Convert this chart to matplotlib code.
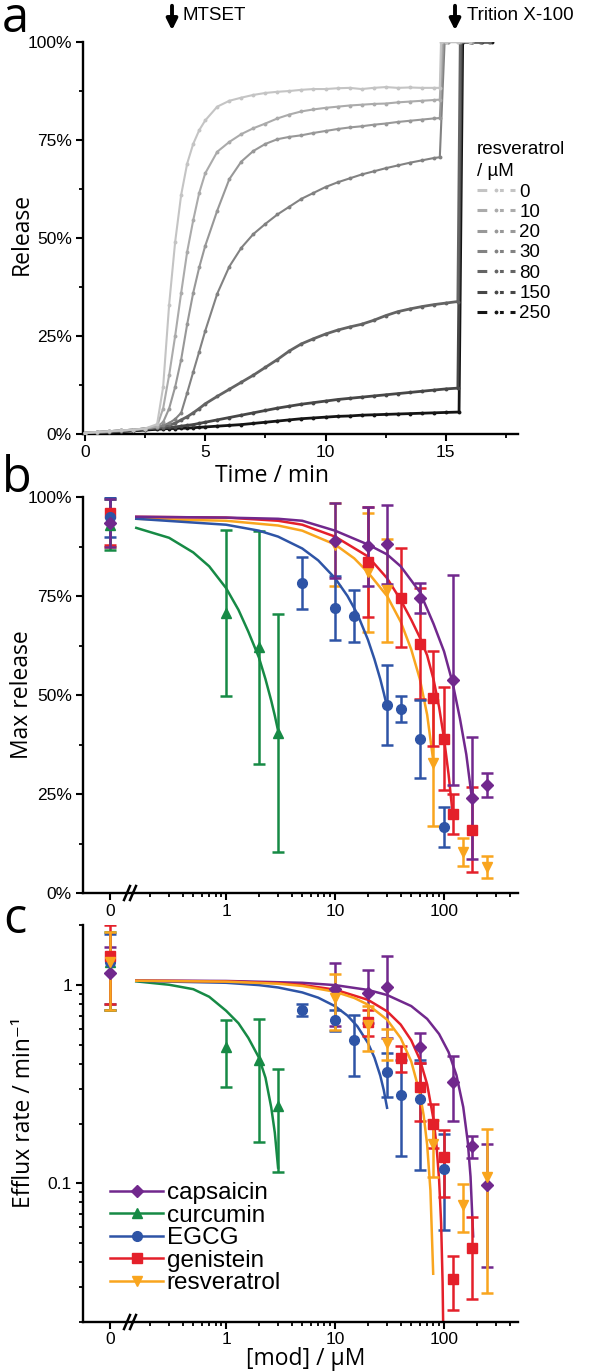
import matplotlib
matplotlib.use('Agg')
import matplotlib.pyplot as plt
from matplotlib.lines import Line2D
from matplotlib.ticker import FixedLocator, NullFormatter, FixedFormatter

W, H = 590, 1372
plt.rcParams['font.family'] = ['Liberation Sans', 'DejaVu Sans']
LABEL_FONT = ['Open Sans', 'DejaVu Sans']

# ---------------- panel a: release traces (resveratrol series) ----------------
time_grid = [0, 0.5, 1, 1.5, 2, 2.5, 3, 3.25, 3.5, 3.75, 4, 4.25, 4.5, 4.75, 5,
             5.5, 6, 6.5, 7, 7.5, 8, 8.5, 9, 9.5, 10, 10.5, 11, 11.5, 12, 12.5,
             13, 13.5, 14, 14.5]
trace_conc = ['0', '10', '20', '30', '80', '150', '250']
trace_grays = ['#c4c4c4', '#ababab', '#989898', '#828282', '#646464', '#474747', '#151515']
release_0 = [0.3, 0.5, 0.7, 0.9, 1.1, 1.4, 2.5, 12, 33, 49, 61, 69, 74, 77.5, 80,
             83.5, 85, 85.8, 86.5, 87, 87.3, 87.5, 87.8, 88, 88, 88.2, 88.3, 88,
             88.3, 88.5, 88.3, 88.4, 88.3, 88.3]
release_10 = [0.3, 0.5, 0.7, 0.9, 1.1, 1.4, 2.0, 6.5, 15, 25, 36, 46.5, 54.5, 61.5,
              66.5, 72, 74.5, 76.5, 78, 79.2, 80.5, 81.5, 82.3, 82.8, 83.2, 83.5,
              83.8, 84, 84.2, 84.3, 84.6, 84.8, 85, 85.2]
release_20 = [0.3, 0.5, 0.7, 0.9, 1.1, 1.4, 1.9, 3, 6.5, 12, 19, 28, 36, 42.5, 48,
              57, 65, 69.5, 72.2, 74, 75.2, 75.8, 76.2, 76.8, 77.3, 77.8, 78.2,
              78.5, 78.9, 79.2, 79.6, 79.9, 80.2, 80.5]
release_30 = [0.3, 0.5, 0.7, 0.9, 1.1, 1.4, 1.8, 2.2, 2.8, 3.8, 5.4, 10.5, 15.8, 21,
              26.3, 35.8, 42.7, 47.5, 51, 53.6, 56, 58, 60, 61.5, 63, 64.2, 65.2,
              66.2, 67, 67.8, 68.5, 69.2, 69.8, 70.4]
release_80 = [0.2, 0.4, 0.6, 0.8, 1.0, 1.3, 1.7, 1.9, 2.2, 2.8, 3.6, 4.4, 5.4, 6.5,
              7.7, 9.6, 11.4, 13.2, 15, 17, 19, 21.2, 23, 24.3, 25.5, 26.5, 27.3,
              28, 29, 30.2, 31.2, 31.9, 32.5, 33]
release_150 = [0.1, 0.3, 0.5, 0.7, 0.9, 1.2, 1.5, 1.6, 1.7, 1.8, 2.0, 2.2, 2.4, 2.7,
               3.0, 3.6, 4.2, 4.8, 5.4, 6.0, 6.6, 7.1, 7.6, 8.0, 8.4, 8.8, 9.1,
               9.4, 9.7, 10.0, 10.3, 10.6, 10.9, 11.2]
release_250 = [0.0, 0.2, 0.4, 0.6, 0.8, 1.0, 1.2, 1.3, 1.4, 1.4, 1.5, 1.5, 1.6, 1.7,
               1.8, 2.0, 2.2, 2.4, 2.7, 3.0, 3.3, 3.6, 3.9, 4.1, 4.3, 4.5, 4.6,
               4.8, 4.9, 5.0, 5.1, 5.2, 5.3, 5.4]
# after Triton X-100 addition
tail_t = [[14.75, 14.8, 15.0, 15.5, 16.0],
          [14.75, 14.85, 15.0, 15.5, 16.0],
          [14.75, 14.9, 15.1, 15.6, 16.1],
          [14.75, 14.95, 15.1, 15.6, 16.1],
          [15.0, 15.5, 15.6, 16.0, 16.4, 16.8],
          [15.0, 15.5, 15.65, 16.05, 16.45, 16.85],
          [15.0, 15.55, 15.7, 16.1, 16.5, 16.9]]
tail_y = [[88.3, 100, 100, 100, 100],
          [85.3, 100, 100, 100, 100],
          [80.6, 100, 100, 100, 100],
          [70.6, 100, 100, 100, 100],
          [33.4, 33.8, 100, 100, 100, 100],
          [11.5, 11.7, 100, 100, 100, 100],
          [5.5, 5.6, 100, 100, 100, 100]]
traces = [release_0, release_10, release_20, release_30, release_80, release_150, release_250]

# ---------------- panels b, c: dose response ----------------
compounds = ['capsaicin', 'curcumin', 'EGCG', 'genistein', 'resveratrol']
colors = ['#71288d', '#168a45', '#2e54a6', '#e4202a', '#f9a51e']
markers = ['D', '^', 'o', 's', 'v']
msizes = [6.5, 7, 7, 6.5, 7]

conc = [[10, 20, 30, 60, 120, 180, 250],
        [1, 2, 3],
        [5, 10, 15, 30, 40, 60, 100],
        [20, 40, 60, 80, 100, 120, 180],
        [10, 20, 30, 80, 150, 250]]

# max release (%), control (no modifier) first
ctrl_release = [93.5, 93, 95, 96, 94]
ctrl_release_err = [6, 6.5, 5, 8, 6.5]
max_release = [[89, 87.6, 88.1, 74.5, 53.8, 24, 27.3],
               [70.7, 62, 40.4],
               [78.3, 72, 70, 47.5, 46.5, 38.9, 16.7],
               [83.6, 74.5, 63, 49.2, 39, 20, 16],
               [88, 81, 76.5, 32.8, 10.4, 6.6]]
max_release_err = [[9.5, 10, 10, 3.8, 26.5, 15.4, 3],
                   [21, 29.5, 30],
                   [6.5, 8, 6.5, 10, 3.2, 9.8, 5],
                   [14, 12.5, 14, 12, 13, 5, 10.7],
                   [10.6, 15, 13, 16, 3.5, 2.8]]
fit_release_x = [[0.15, 1, 3, 5, 10, 20, 30, 40, 60, 80, 100, 120, 140, 160, 180],
                 [0.15, 0.3, 0.5, 0.7, 1, 1.3, 1.6, 2, 2.3, 2.6, 2.8, 3],
                 [0.15, 1, 2, 3, 5, 7, 10, 13, 16, 20, 23, 26, 28, 30],
                 [0.15, 1, 3, 5, 10, 20, 30, 40, 50, 60, 70, 80, 90, 100, 110, 120],
                 [0.15, 1, 3, 5, 10, 15, 20, 30, 40, 50, 60, 70, 80]]
fit_release_y = [[95, 94.8, 94.5, 94, 91.5, 88, 85.5, 82.5, 76, 68, 61, 53, 44, 35, 24],
                 [92.2, 89.7, 86, 82.5, 77, 71.5, 66, 59.5, 54, 48.5, 44.8, 41],
                 [94.5, 93, 91.5, 90, 87, 84, 79.5, 75, 70.5, 64, 59, 54, 50.5, 47],
                 [95, 94.8, 94, 93, 90, 85, 79.5, 74, 69, 64.5, 60, 54, 47, 39, 30, 20],
                 [94.5, 94, 92.8, 91.5, 88, 84.5, 81, 75, 68.5, 61.5, 54, 45, 33]]

# efflux rate (1/min)
ctrl_rate = [1.15, 1.3, 1.3, 1.4, 1.3]
ctrl_rate_err = [0.4, 0.55, 0.5, 0.6, 0.55]
efflux_rate = [[0.95, 0.91, 0.97, 0.486, 0.323, 0.154, 0.098],
               [0.485, 0.416, 0.246],
               [0.747, 0.665, 0.526, 0.363, 0.277, 0.267, 0.118],
               [0.65, 0.428, 0.305, 0.20, 0.135, 0.033, 0.047],
               [0.86, 0.626, 0.51, 0.158, 0.078, 0.108]]
efflux_rate_err = [[0.33, 0.27, 0.43, 0.084, 0.117, 0.02, 0.06],
                   [0.18, 0.255, 0.132],
                   [0.05, 0.08, 0.18, 0.09, 0.14, 0.15, 0.06],
                   [0.1, 0.065, 0.1, 0.05, 0.05, 0.01, 0.021],
                   [0.27, 0.16, 0.09, 0.05, 0.021, 0.08]]
fit_rate_x = [[0.15, 1, 5, 10, 20, 30, 50, 70, 90, 110, 130, 150, 165, 175, 185],
              [0.15, 0.3, 0.5, 0.7, 1, 1.3, 1.6, 2, 2.3, 2.6, 2.8, 3],
              [0.15, 1, 2, 3, 5, 7, 10, 13, 16, 20, 23, 26, 28, 30],
              [0.15, 1, 3, 5, 10, 20, 30, 40, 50, 60, 70, 80, 85, 90, 94, 97, 98.2],
              [0.15, 1, 3, 5, 10, 15, 20, 30, 40, 50, 60, 65, 70, 75, 79.5]]
fit_rate_y = [[1.05, 1.045, 1.023, 0.996, 0.942, 0.888, 0.781, 0.673, 0.565, 0.458,
               0.35, 0.242, 0.162, 0.108, 0.054],
              [1.04, 1.0, 0.95, 0.87, 0.74, 0.64, 0.54, 0.43, 0.34, 0.24, 0.18, 0.12],
              [1.046, 1.023, 0.996, 0.969, 0.915, 0.861, 0.78, 0.699, 0.618, 0.51,
               0.429, 0.348, 0.294, 0.24],
              [1.048, 1.04, 1.02, 0.998, 0.945, 0.84, 0.735, 0.63, 0.525, 0.42, 0.315,
               0.21, 0.158, 0.105, 0.063, 0.0315, 0.019],
              [1.048, 1.037, 1.012, 0.986, 0.922, 0.858, 0.794, 0.667, 0.539, 0.411,
               0.284, 0.22, 0.156, 0.092, 0.035]]


def rect(left, right, top, bottom):
    return [left / W, 1 - bottom / H, (right - left) / W, (bottom - top) / H]


def style_spines(ax, sides):
    for s in ['left', 'right', 'top', 'bottom']:
        ax.spines[s].set_visible(s in sides)
        ax.spines[s].set_linewidth(1.7)
    ax.tick_params(which='major', length=5, width=1.5, labelsize=12.5, pad=3)
    ax.tick_params(which='minor', length=2.8, width=1.3)


fig = plt.figure(figsize=(W / 100, H / 100), dpi=100)

# ---------------- panel a ----------------
axa = fig.add_axes(rect(83, 518, 42, 434))
style_spines(axa, ['left', 'bottom'])
for i in range(len(traces)):
    t = time_grid + tail_t[i]
    y = traces[i] + tail_y[i]
    axa.plot(t, y, '-', color=trace_grays[i], lw=1.5 if i < 4 else 2.0, marker='o',
             ms=2.8, mec='none', zorder=10 - i)
axa.set_xlim(-0.08, 18)
axa.set_ylim(0, 100)
axa.xaxis.set_major_locator(FixedLocator([0, 5, 10, 15]))
axa.xaxis.set_minor_locator(FixedLocator([2.5, 7.5, 12.5, 17.5]))
axa.yaxis.set_major_locator(FixedLocator([0, 25, 50, 75, 100]))
axa.yaxis.set_minor_locator(FixedLocator([12.5, 37.5, 62.5, 87.5]))
axa.yaxis.set_major_formatter(FixedFormatter(['0%', '25%', '50%', '75%', '100%']))

handles = [Line2D([0, 0.5, 1], [0, 0, 0], color=c, lw=2.2, ls=(0, (3.2, 2.2)),
                  marker='o', ms=4, mec='white', mew=1.2, markevery=[1])
           for c in trace_grays]
leg = axa.legend(handles, trace_conc, title='resveratrol\n/ µM', loc='upper left',
                 bbox_to_anchor=(477 / W, 1 - 141 / H), bbox_transform=fig.transFigure,
                 frameon=False, fontsize=13.5, title_fontsize=13.5, handlelength=2.0,
                 handletextpad=0.25, labelspacing=0.17, borderpad=0, borderaxespad=0)
leg._legend_box.align = 'left'
leg.get_title().set_linespacing(1.4)

fig.text(2 / W, 1 - 32 / H, 'a', fontsize=35, family=LABEL_FONT, va='baseline')
fig.text(22 / W, 1 - 234 / H, 'Release', fontsize=16.5, family=LABEL_FONT,
         rotation=90, ha='center', va='center')
fig.text(272 / W, 1 - 476 / H, 'Time / min', fontsize=16.5, family=LABEL_FONT,
         ha='center', va='center')
for x_arrow, x_text, label in [(172, 182, 'MTSET'), (455, 467, 'Trition X-100')]:
    fig.add_artist(matplotlib.patches.FancyArrowPatch(
        (x_arrow / W, 1 - 3 / H), (x_arrow / W, 1 - 33 / H),
        transform=fig.transFigure, arrowstyle='-|>', mutation_scale=16,
        lw=2.8, color='black'))
    fig.text(x_text / W, 1 - 15 / H, label, fontsize=13.5, va='center', ha='left')


# ---------------- panels b, c ----------------
def broken_axes(top, bottom):
    ax0 = fig.add_axes(rect(83, 133, top, bottom))
    ax1 = fig.add_axes(rect(133, 518, top, bottom), sharey=ax0)
    style_spines(ax0, ['left', 'bottom'])
    style_spines(ax1, ['bottom'])
    ax0.set_xlim(-0.54, 0.46)
    ax0.xaxis.set_major_locator(FixedLocator([0]))
    ax0.xaxis.set_minor_locator(FixedLocator([]))
    ax0.xaxis.set_major_formatter(FixedFormatter(['0']))
    ax1.set_xscale('log')
    ax1.set_xlim(0.14, 477)
    ax1.xaxis.set_major_locator(FixedLocator([1, 10, 100]))
    ax1.xaxis.set_major_formatter(FixedFormatter(['1', '10', '100']))
    minors = [m * d for d in [0.1, 1, 10, 100] for m in range(2, 10)]
    ax1.xaxis.set_minor_locator(FixedLocator([m for m in minors if m < 477]))
    ax1.xaxis.set_minor_formatter(NullFormatter())
    ax1.tick_params(axis='y', which='both', left=False, labelleft=False)
    ax1.patch.set_alpha(0)
    # break marks
    yb = 1 - bottom / H
    for xb in [127, 133]:
        fig.add_artist(Line2D([(xb - 3) / W, (xb + 3) / W], [yb - 7 / H, yb + 7 / H],
                              transform=fig.transFigure, color='black', lw=1.8))
    return ax0, ax1


def draw_series(ax0, ax1, ctrl, ctrl_err, vals, errs, fit_x, fit_y, order):
    for i in order:
        kw = dict(color=colors[i], marker=markers[i], ms=msizes[i], ls='none',
                  elinewidth=1.8, capsize=4.5, capthick=1.8, mec=colors[i])
        ax0.errorbar([0], [ctrl[i]], yerr=[ctrl_err[i]], **kw)
        ax1.errorbar(conc[i], vals[i], yerr=errs[i], **kw)
        ax1.plot(fit_x[i], fit_y[i], '-', color=colors[i], lw=1.8)


axb0, axb1 = broken_axes(497, 893)
draw_series(axb0, axb1, ctrl_release, ctrl_release_err, max_release, max_release_err,
            fit_release_x, fit_release_y, [4, 3, 1, 2, 0])
axb0.set_ylim(0, 100)
axb0.yaxis.set_major_locator(FixedLocator([0, 25, 50, 75, 100]))
axb0.yaxis.set_minor_locator(FixedLocator([12.5, 37.5, 62.5, 87.5]))
axb0.yaxis.set_major_formatter(FixedFormatter(['0%', '25%', '50%', '75%', '100%']))
fig.text(2 / W, 1 - 492 / H, 'b', fontsize=35, family=LABEL_FONT, va='baseline')
fig.text(22 / W, 1 - 695 / H, 'Max release', fontsize=16.5, family=LABEL_FONT,
         rotation=90, ha='center', va='center')

axc0, axc1 = broken_axes(925, 1322)
draw_series(axc0, axc1, ctrl_rate, ctrl_rate_err, efflux_rate, efflux_rate_err,
            fit_rate_x, fit_rate_y, [0, 1, 2, 3, 4])
axc0.set_yscale('log')
axc0.set_ylim(0.02, 2)
axc0.yaxis.set_major_locator(FixedLocator([0.1, 1]))
axc0.yaxis.set_major_formatter(FixedFormatter(['0.1', '1']))
axc0.yaxis.set_minor_locator(FixedLocator([0.02, 0.03, 0.04, 0.05, 0.06, 0.07, 0.08,
                                           0.09, 0.2, 0.3, 0.4, 0.5, 0.6, 0.7, 0.8,
                                           0.9, 2]))
axc0.yaxis.set_minor_formatter(NullFormatter())
axc1.tick_params(axis='x', which='major', pad=2)
axc0.tick_params(axis='x', which='major', pad=2)
fig.text(3 / W, 1 - 933 / H, 'c', fontsize=35, family=LABEL_FONT, va='baseline')
fig.text(24 / W, 1 - 1113 / H, 'Efflux rate / min⁻¹', fontsize=16.5,
         family=LABEL_FONT, rotation=90, ha='center', va='center')
fig.text(306 / W, 1 - 1359 / H, '[mod] / µM', fontsize=16.5, family=LABEL_FONT,
         ha='center', va='center')

leg_handles = [Line2D([], [], color=colors[i], marker=markers[i], ms=msizes[i], lw=1.8)
               for i in range(len(compounds))]
axc1.legend(leg_handles, compounds, loc='upper left',
            bbox_to_anchor=(110 / W, 1 - 1182 / H), bbox_transform=fig.transFigure,
            frameon=False, fontsize=17.5, handlelength=2.2, handletextpad=0.13,
            labelspacing=0.02, borderpad=0, borderaxespad=0)

fig.savefig('out.png', dpi=100)
